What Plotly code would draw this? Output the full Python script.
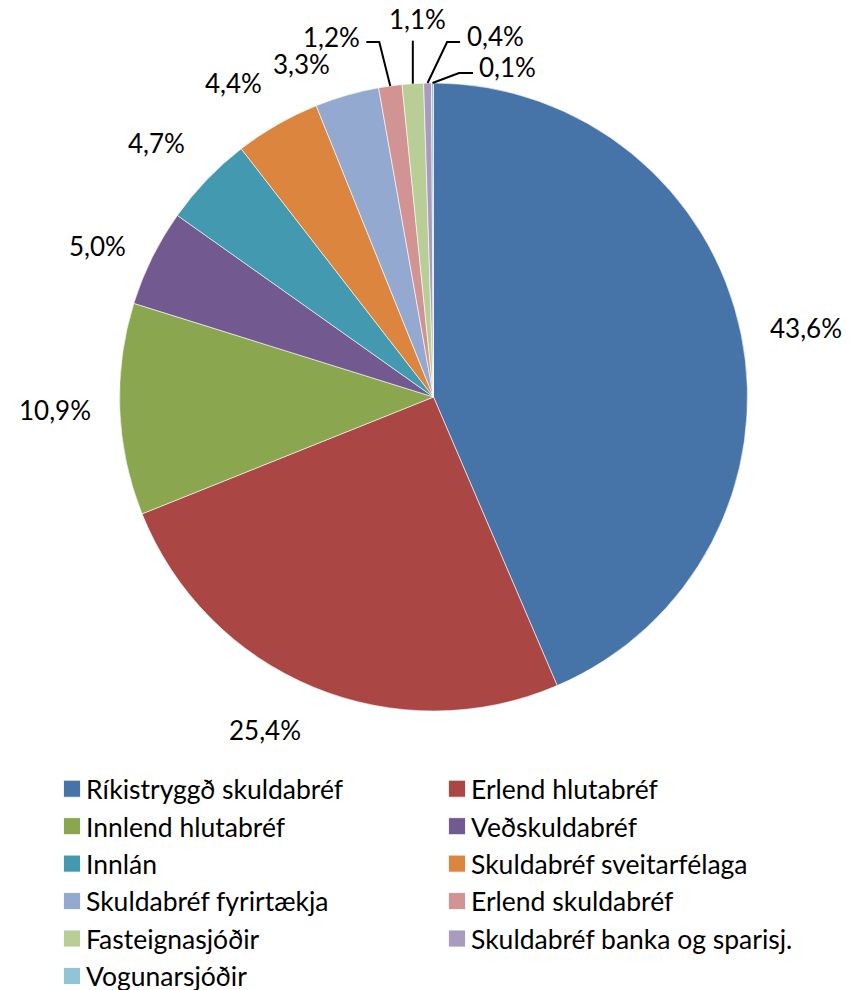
import math
import plotly.graph_objects as go

# ---- data ----
categories = [
    "Ríkistryggð skuldabréf", "Erlend hlutabréf", "Innlend hlutabréf",
    "Veðskuldabréf", "Innlán", "Skuldabréf sveitarfélaga",
    "Skuldabréf fyrirtækja", "Erlend skuldabréf", "Fasteignasjóðir",
    "Skuldabréf banka og sparisj.", "Vogunarsjóðir",
]
shares = [43.6, 25.4, 10.9, 5.0, 4.7, 4.4, 3.3, 1.2, 1.1, 0.4, 0.1]
pct_labels = [f"{v:.1f}".replace(".", ",") + "%" for v in shares]

# ---- style ----
colors = ["#4673A8", "#AA4744", "#8AA64F", "#72598F", "#4399B0", "#DB853E",
          "#93A9D0", "#D29393", "#B9CE97", "#A99BBE", "#92C4D5"]
FONT = "Lato"
LABEL_SIZE = 26
LEGEND_SIZE = 26.5

W, H = 854, 990
CX, CY, R = 433.5, 397.0, 314.0   # pie centre / radius in page pixels
GAP = 27

# callouts for the thin slices: offsets (px) from the slice edge point
callouts = {
    7: dict(path=[(-11, -44), (-24, -44)], text=(-28, -49), xa="right", ya="middle"),
    8: dict(path=[(0, -43)], text=(5, -47), xa="center", ya="bottom"),
    9: dict(path=[(19.5, -41), (32.5, -41)], text=(37.5, -47), xa="left", ya="middle"),
    10: dict(path=[(26.5, -10), (40.5, -10)], text=(44.5, -16), xa="left", ya="middle"),
}
label_nudge = {6: (-7, 13)}


def px(x):
    return x / W


def py(y):
    return 1 - y / H


fig = go.Figure(go.Pie(
    labels=categories,
    values=shares,
    sort=False,
    direction="clockwise",
    rotation=0,
    textinfo="none",
    hoverinfo="label+percent",
    marker=dict(colors=colors, line=dict(color="white", width=0.6)),
    domain=dict(x=[px(CX - R), px(CX + R)], y=[py(CY + R), py(CY - R)]),
))

total = sum(shares)
annotations = []
shapes = []
cum = 0.0
for i, v in enumerate(shares):
    mid = (cum + v / 2) / total * 2 * math.pi
    cum += v
    dx, dy = math.sin(mid), -math.cos(mid)
    ex, ey = CX + R * dx, CY + R * dy
    if i in callouts:
        c = callouts[i]
        pts = [(ex, ey)] + [(ex + a, ey + b) for a, b in c["path"]]
        path = "M " + " L ".join(f"{px(a):.5f},{py(b):.5f}" for a, b in pts)
        shapes.append(dict(type="path", xref="paper", yref="paper", path=path,
                           line=dict(color="black", width=2)))
        tx, ty = ex + c["text"][0], ey + c["text"][1]
        xa, ya = c["xa"], c["ya"]
    else:
        tx, ty = CX + (R + GAP) * dx, CY + (R + GAP) * dy
        xa = "left" if dx > 0.25 else ("right" if dx < -0.25 else "center")
        ya = "bottom" if dy < -0.5 else ("top" if dy > 0.5 else "middle")
        nx, ny = label_nudge.get(i, (0, 0))
        tx, ty = tx + nx, ty + ny
    annotations.append(dict(
        x=px(tx), y=py(ty), xref="paper", yref="paper", text=pct_labels[i],
        showarrow=False, xanchor=xa, yanchor=ya,
        font=dict(family=FONT, size=LABEL_SIZE, color="black"),
    ))

fig.update_layout(
    width=W, height=H,
    margin=dict(l=0, r=0, t=0, b=0, autoexpand=False),
    paper_bgcolor="white",
    plot_bgcolor="white",
    annotations=annotations,
    shapes=shapes,
    showlegend=True,
    legend=dict(
        orientation="h",
        x=px(46), xanchor="left",
        y=py(765), yanchor="top",
        entrywidth=340, entrywidthmode="pixels",
        traceorder="normal",
        font=dict(family=FONT, size=LEGEND_SIZE, color="black"),
        bgcolor="rgba(0,0,0,0)",
    ),
)

# remove the browser's default 8px body margin so the figure fills the page,
# and draw the legend swatches at the reference's larger square size
post = (
    "document.body.style.margin='0';"
    "document.body.style.overflow='hidden';"
    "document.querySelectorAll('path.legendpie').forEach(function(p){"
    "p.setAttribute('transform','translate(26,0) scale(1.42)');});"
)
fig.write_html("out.html", config={"displayModeBar": False}, post_script=post)
